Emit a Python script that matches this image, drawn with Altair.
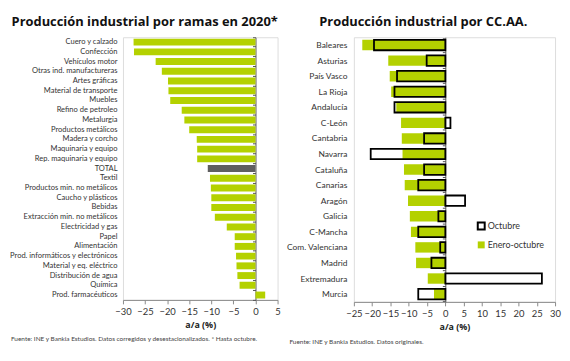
import altair as alt
import pandas as pd

# ---------------- Data ----------------
ramas = [
    "Cuero y calzado", "Confección", "Vehículos motor", "Otras ind. manufactureras",
    "Artes gráficas", "Material de transporte", "Muebles", "Refino de petroleo",
    "Metalurgia", "Productos metálicos", "Madera y corcho", "Maquinaria y equipo",
    "Rep. maquinaria y equipo", "TOTAL", "Textil", "Productos min. no metálicos",
    "Caucho y plásticos", "Bebidas", "Extracción min. no metálicos", "Electricidad y gas",
    "Papel", "Alimentación", "Prod. informáticos y electrónicos", "Material y eq. eléctrico",
    "Distribución de agua", "Química", "Prod. farmacéuticos",
]
ramas_valor = [
    -27.6, -27.5, -22.6, -21.2, -19.8, -19.7, -19.3, -16.7, -16.1, -15.0, -13.3, -13.2,
    -13.2, -10.8, -10.3, -10.1, -10.0, -10.0, -9.2, -6.5, -4.7, -4.7, -4.4, -4.3, -4.1,
    -3.6, 2.2,
]

ccaa = [
    "Baleares", "Asturias", "País Vasco", "La Rioja", "Andalucía", "C-León", "Cantabria",
    "Navarra", "Cataluña", "Canarias", "Aragón", "Galicia", "C-Mancha", "Com. Valenciana",
    "Madrid", "Extremadura", "Murcia",
]
enero_octubre = [-22.7, -15.6, -15.2, -14.8, -13.4, -12.1, -11.9, -11.7, -11.3, -11.1,
                 -10.2, -9.7, -9.4, -8.2, -8.0, -4.8, -3.1]
octubre = [-19.5, -5.1, -13.2, -13.9, -13.9, 1.4, -5.8, -20.4, -5.8, -7.4,
           5.4, -1.9, -7.4, -1.4, -3.8, 26.4, -7.4]

series = ["Octubre", "Enero-octubre"]
fuente_izq = "Fuente: INE y Bankia Estudios. Datos corregidos y desestacionalizados. * Hasta octubre."
fuente_der = "Fuente: INE y Bankia Estudios. Datos originales."

# ---------------- Styling ----------------
FONT = "Lato"
TFONT = "Open Sans"
GREEN = "#b4d100"
GRAY = "#5f5f5f"
AXIS_GRAY = "#8a8a8a"

df_r = pd.DataFrame({"rama": ramas, "valor": ramas_valor})
rows = []
for c, e in zip(ccaa, enero_octubre):
    rows.append({"ccaa": c, "serie": "Enero-octubre", "valor": e})
for c, o in zip(ccaa, octubre):
    rows.append({"ccaa": c, "serie": "Octubre", "valor": o})
df_c = pd.DataFrame(rows)

def x_axis(values):
    return alt.Axis(values=values, grid=False, tickSize=4, tickColor=AXIS_GRAY,
                    domainColor=AXIS_GRAY, labelFontSize=9.5, labelColor="#333333",
                    labelFont=FONT, labelPadding=3, labelOverlap=False, labelFlush=False,
                    title="a/a (%)", titleFont=TFONT,
                    titleFontSize=9, titleFontWeight="bold", titlePadding=4,
                    titleColor="#222222")

# ---------------- Left chart ----------------
LW, LH = 156, 265
zero_l = LW * 30 / 35

bars_l = alt.Chart(df_r).mark_bar(size=7).encode(
    y=alt.Y("rama:N", sort=ramas, title=None,
            axis=alt.Axis(domain=False, ticks=False, labelFontSize=7.6, labelFont=FONT,
                          labelColor="#333333", labelPadding=6, labelLimit=200)),
    x=alt.X("valor:Q", scale=alt.Scale(domain=[-30, 5], nice=False),
            axis=x_axis(list(range(-30, 6, 5)))),
    color=alt.condition(alt.datum.rama == "TOTAL", alt.value(GRAY), alt.value(GREEN)),
)
zero_l_layer = alt.Chart(df_r).mark_bar(opacity=0).encode(
    y=alt.Y("rama:N", sort=ramas, title=None,
            axis=alt.Axis(orient="left", offset=-zero_l, labels=False, domain=True,
                          domainColor="#555555", ticks=True, tickBand="extent",
                          tickSize=3, tickColor="#555555")),
    x=alt.X("valor:Q", axis=x_axis(list(range(-30, 6, 5)))),
)
src_l = alt.Chart(pd.DataFrame({"t": [fuente_izq]})).mark_text(
    align="left", baseline="middle", fontSize=6.5, font=FONT, color="#444444"
).encode(text="t:N", x=alt.value(-113), y=alt.value(304))

left = alt.layer(bars_l, zero_l_layer, src_l).resolve_axis(y="independent").properties(
    width=LW, height=LH,
    title=alt.TitleParams("Producción industrial por ramas en 2020*", font=TFONT,
                          fontSize=13, fontWeight="bold", anchor="middle",
                          frame="bounds", offset=8, color="#111111"),
)

# ---------------- Right chart ----------------
RW, RH = 203, 267
zero_r = RW * 25 / 55

leg = alt.Legend(orient="none", legendX=124, legendY=186, title=None,
                 symbolType="square", symbolSize=49, symbolStrokeWidth=2,
                 labelFont=FONT, labelFontSize=9, labelColor="#333333",
                 rowPadding=4, labelOffset=2)
bars_c = alt.Chart(df_c).mark_bar(size=10.5, strokeWidth=1.8).encode(
    y=alt.Y("ccaa:N", sort=ccaa, title=None,
            axis=alt.Axis(domain=False, ticks=False, labelFontSize=8.5, labelFont=FONT,
                          labelColor="#333333", labelPadding=7)),
    x=alt.X("valor:Q", stack=None, scale=alt.Scale(domain=[-25, 30], nice=False),
            axis=x_axis(list(range(-25, 31, 5)))),
    fill=alt.Fill("serie:N", scale=alt.Scale(domain=series, range=["transparent", GREEN]),
                  legend=leg),
    stroke=alt.Stroke("serie:N", scale=alt.Scale(domain=series, range=["#000000", "transparent"]),
                      legend=leg),
)
zero_r_layer = alt.Chart(df_c).mark_bar(opacity=0).encode(
    y=alt.Y("ccaa:N", sort=ccaa, title=None,
            axis=alt.Axis(orient="left", offset=-zero_r, labels=False, domain=True,
                          domainColor="#555555", ticks=True, tickBand="extent",
                          tickSize=3, tickColor="#555555")),
    x=alt.X("valor:Q", stack=None, axis=x_axis(list(range(-25, 31, 5)))),
)
src_r = alt.Chart(pd.DataFrame({"t": [fuente_der]})).mark_text(
    align="left", baseline="middle", fontSize=6.5, font=FONT, color="#444444"
).encode(text="t:N", x=alt.value(-65), y=alt.value(307))

right = alt.layer(bars_c, zero_r_layer, src_r).resolve_axis(y="independent").properties(
    width=RW, height=RH,
    title=alt.TitleParams("Producción industrial por CC.AA.", font=TFONT,
                          fontSize=13, fontWeight="bold", anchor="middle",
                          frame="bounds", offset=8, color="#111111"),
)

chart = alt.hconcat(left, right, spacing=4).resolve_legend(
    fill="independent", stroke="independent"
).properties(
    padding={"left": 0, "top": 6, "right": 0, "bottom": 0}
).configure_view(stroke=None).configure(background="white")

chart.save("out.html", embed_options={"renderer": "svg", "actions": False})
